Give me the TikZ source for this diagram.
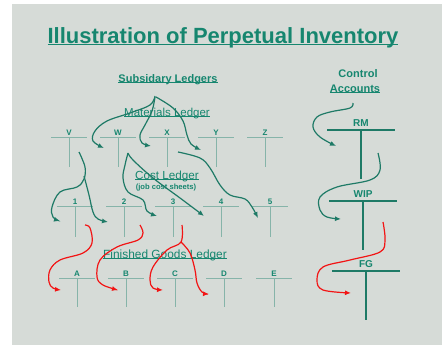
\documentclass[tikz,border=0pt]{standalone}
\usepackage{fontspec}
\setmainfont{Liberation Sans}
\usetikzlibrary{arrows.meta}
\definecolor{bggray}{HTML}{D6DBD7}
\definecolor{tealtxt}{HTML}{16866F}
\definecolor{tline}{HTML}{86B4A9}
\definecolor{tdark}{HTML}{1E7A66}
\definecolor{redarr}{HTML}{F21414}
\newcommand\ulin[1]{\setbox0\hbox{#1}\rlap{\rule[-0.11em]{\wd0}{0.075em}}\box0}
\newcommand\TAcct[6]{% name, x, bar y, label, halfwidth, stem length
  \node[tlabel,anchor=base] (#1) at (#2,#3-2) {#4};
  \coordinate (#1L) at (#2-#5,#3);
  \coordinate (#1R) at (#2+#5,#3);
  \coordinate (#1T) at (#2,#3);
  \coordinate (#1B) at (#2,#3+#6);
  \draw[tacc] (#1L) -- (#1R);
  \draw[tacc] (#1T) -- (#1B);
}
\begin{document}
\begin{tikzpicture}[x=1pt,y=-1pt,
  tlabel/.style={text=tealtxt,font=\fontsize{8}{9}\selectfont\bfseries,inner sep=0pt},
  tacc/.style={draw=tline,line width=1pt},
  ctrl/.style={draw=tdark,line width=2.3pt},
  heading/.style={text=tealtxt,inner sep=0pt,anchor=base},
  tarrow/.style={draw=tdark,line width=1.2pt,-{Latex[length=6pt,width=5pt]}},
  tline/.style={draw=tdark,line width=1.2pt},
  rarrow/.style={draw=redarr,line width=1.2pt,-{Latex[length=6pt,width=5pt]}},
  rline/.style={draw=redarr,line width=1.2pt}]
\useasboundingbox (0,0) rectangle (443,345);
\fill[white] (0,0) rectangle (443,345);
\fill[bggray] (12,4) rectangle (442,345);
% headings
\node[heading,font=\fontsize{22}{26}\selectfont\bfseries] (title) at (223,43) {\ulin{Illustration of Perpetual Inventory}};
\node[heading,font=\fontsize{11}{13}\selectfont\bfseries] (subs) at (168,82) {\ulin{Subsidary Ledgers}};
\node[heading,font=\fontsize{11}{13}\selectfont\bfseries] (ctrl1) at (358,77) {Control};
\node[heading,font=\fontsize{11}{13}\selectfont\bfseries] (ctrl2) at (355,92) {\ulin{Accounts}};
\node[heading,font=\fontsize{11.5}{13}\selectfont] (mat) at (167,116) {\ulin{Materials Ledger}};
\node[heading,font=\fontsize{11.7}{13}\selectfont] (cost) at (167,179) {\ulin{Cost Ledger}};
\node[heading,font=\fontsize{7.6}{9}\selectfont\bfseries] (job) at (166,189) {(job cost sheets)};
\node[heading,font=\fontsize{11.9}{13}\selectfont] (fgl) at (165,258) {\ulin{Finished Goods Ledger}};
% materials ledger T accounts
\TAcct{V}{69}{137}{V}{18}{30}
\TAcct{W}{118}{137}{W}{18}{30}
\TAcct{X}{167}{137}{X}{18}{30}
\TAcct{Y}{216}{137}{Y}{18}{30}
\TAcct{Z}{265}{137}{Z}{18}{30}
% cost ledger
\TAcct{J1}{75}{206}{1}{18}{31}
\TAcct{J2}{124}{206}{2}{18}{31}
\TAcct{J3}{173}{206}{3}{18}{31}
\TAcct{J4}{221}{206}{4}{18}{31}
\TAcct{J5}{270}{206}{5}{18}{31}
% finished goods
\TAcct{A}{77}{278}{A}{18}{29}
\TAcct{B}{126}{278}{B}{18}{29}
\TAcct{C}{175}{278}{C}{18}{29}
\TAcct{D}{224}{278}{D}{18}{29}
\TAcct{E}{274}{278}{E}{18}{29}
% control accounts
\node[tlabel,font=\fontsize{10}{12}\selectfont\bfseries,anchor=base] (RM) at (361,126) {RM};
\draw[ctrl] (327,130) -- (395,130) (361,130) -- (361,179);
\node[tlabel,font=\fontsize{10}{12}\selectfont\bfseries,anchor=base] (WIP) at (363,197) {WIP};
\draw[ctrl] (329,201) -- (397,201) (363,201) -- (363,250);
\node[tlabel,font=\fontsize{10}{12}\selectfont\bfseries,anchor=base] (FG) at (366,267) {FG};
\draw[ctrl] (332,271) -- (400,271) (366,271) -- (366,320);
% teal flow arrows
\draw[tarrow] plot[smooth,tension=0.6] coordinates {(155,96) (150,105) (130,113) (107,121) (95,131) (93,141) (104,148)};
\draw[tarrow] plot[smooth,tension=0.6] coordinates {(155,97) (152,111) (145,125) (140,135) (142,143) (151,146)};
\draw[tarrow] plot[smooth,tension=0.6] coordinates {(156,97) (173,108) (183,121) (187,135) (191,144) (201,150)};
\draw[tarrow] plot[smooth,tension=0.6] coordinates {(79,152) (85,167) (84,179) (77,187) (60,192) (52,207) (53,217) (60,221)};
\draw[tarrow] plot[smooth,tension=0.6] coordinates {(84,176) (89,195) (93,212) (98,219) (108,222)};
\draw[tarrow] plot[smooth,tension=0.6] coordinates {(128,153) (125,165) (123,178) (128,192) (143,200) (147,211) (157,216)};
\draw[tarrow] plot[smooth,tension=0.6] coordinates {(128,153) (133,160) (153,178) (180,198) (204,216)};
\draw[tarrow] plot[smooth,tension=0.6] coordinates {(178,152) (200,158) (210,168) (220,185) (230,195) (245,199) (252,207) (258,218)};
\draw[tarrow] plot[smooth,tension=0.6] coordinates {(353,103) (350,108) (330,112) (317,117) (313,127) (320,137) (336,146)};
\draw[tarrow] plot[smooth,tension=0.6] coordinates {(378,153) (380,170) (370,180) (337,187) (320,197) (320,210) (327,217) (341,219)};
% red flow arrows
\draw[rarrow] plot[smooth,tension=0.6] coordinates {(85,225) (90,228) (92,243) (83,253) (60,260) (50,270) (49,282) (53,288) (61,290)};
\draw[rarrow] plot[smooth,tension=0.6] coordinates {(140,225) (143,233) (138,240) (117,247) (100,260) (97,277) (103,285) (118,290)};
\draw[rarrow] plot[smooth,tension=0.6] coordinates {(182,225) (181,242) (167,250) (153,267) (150,280) (153,288) (163,290)};
\draw[rarrow] plot[smooth,tension=0.6] coordinates {(181,242) (190,253) (195,270) (197,283) (202,292) (209,294)};
\draw[rarrow] plot[smooth,tension=0.6] coordinates {(383,222) (385,240) (380,252) (350,260) (323,267) (317,280) (323,290) (351,293)};
\end{tikzpicture}
\end{document}
